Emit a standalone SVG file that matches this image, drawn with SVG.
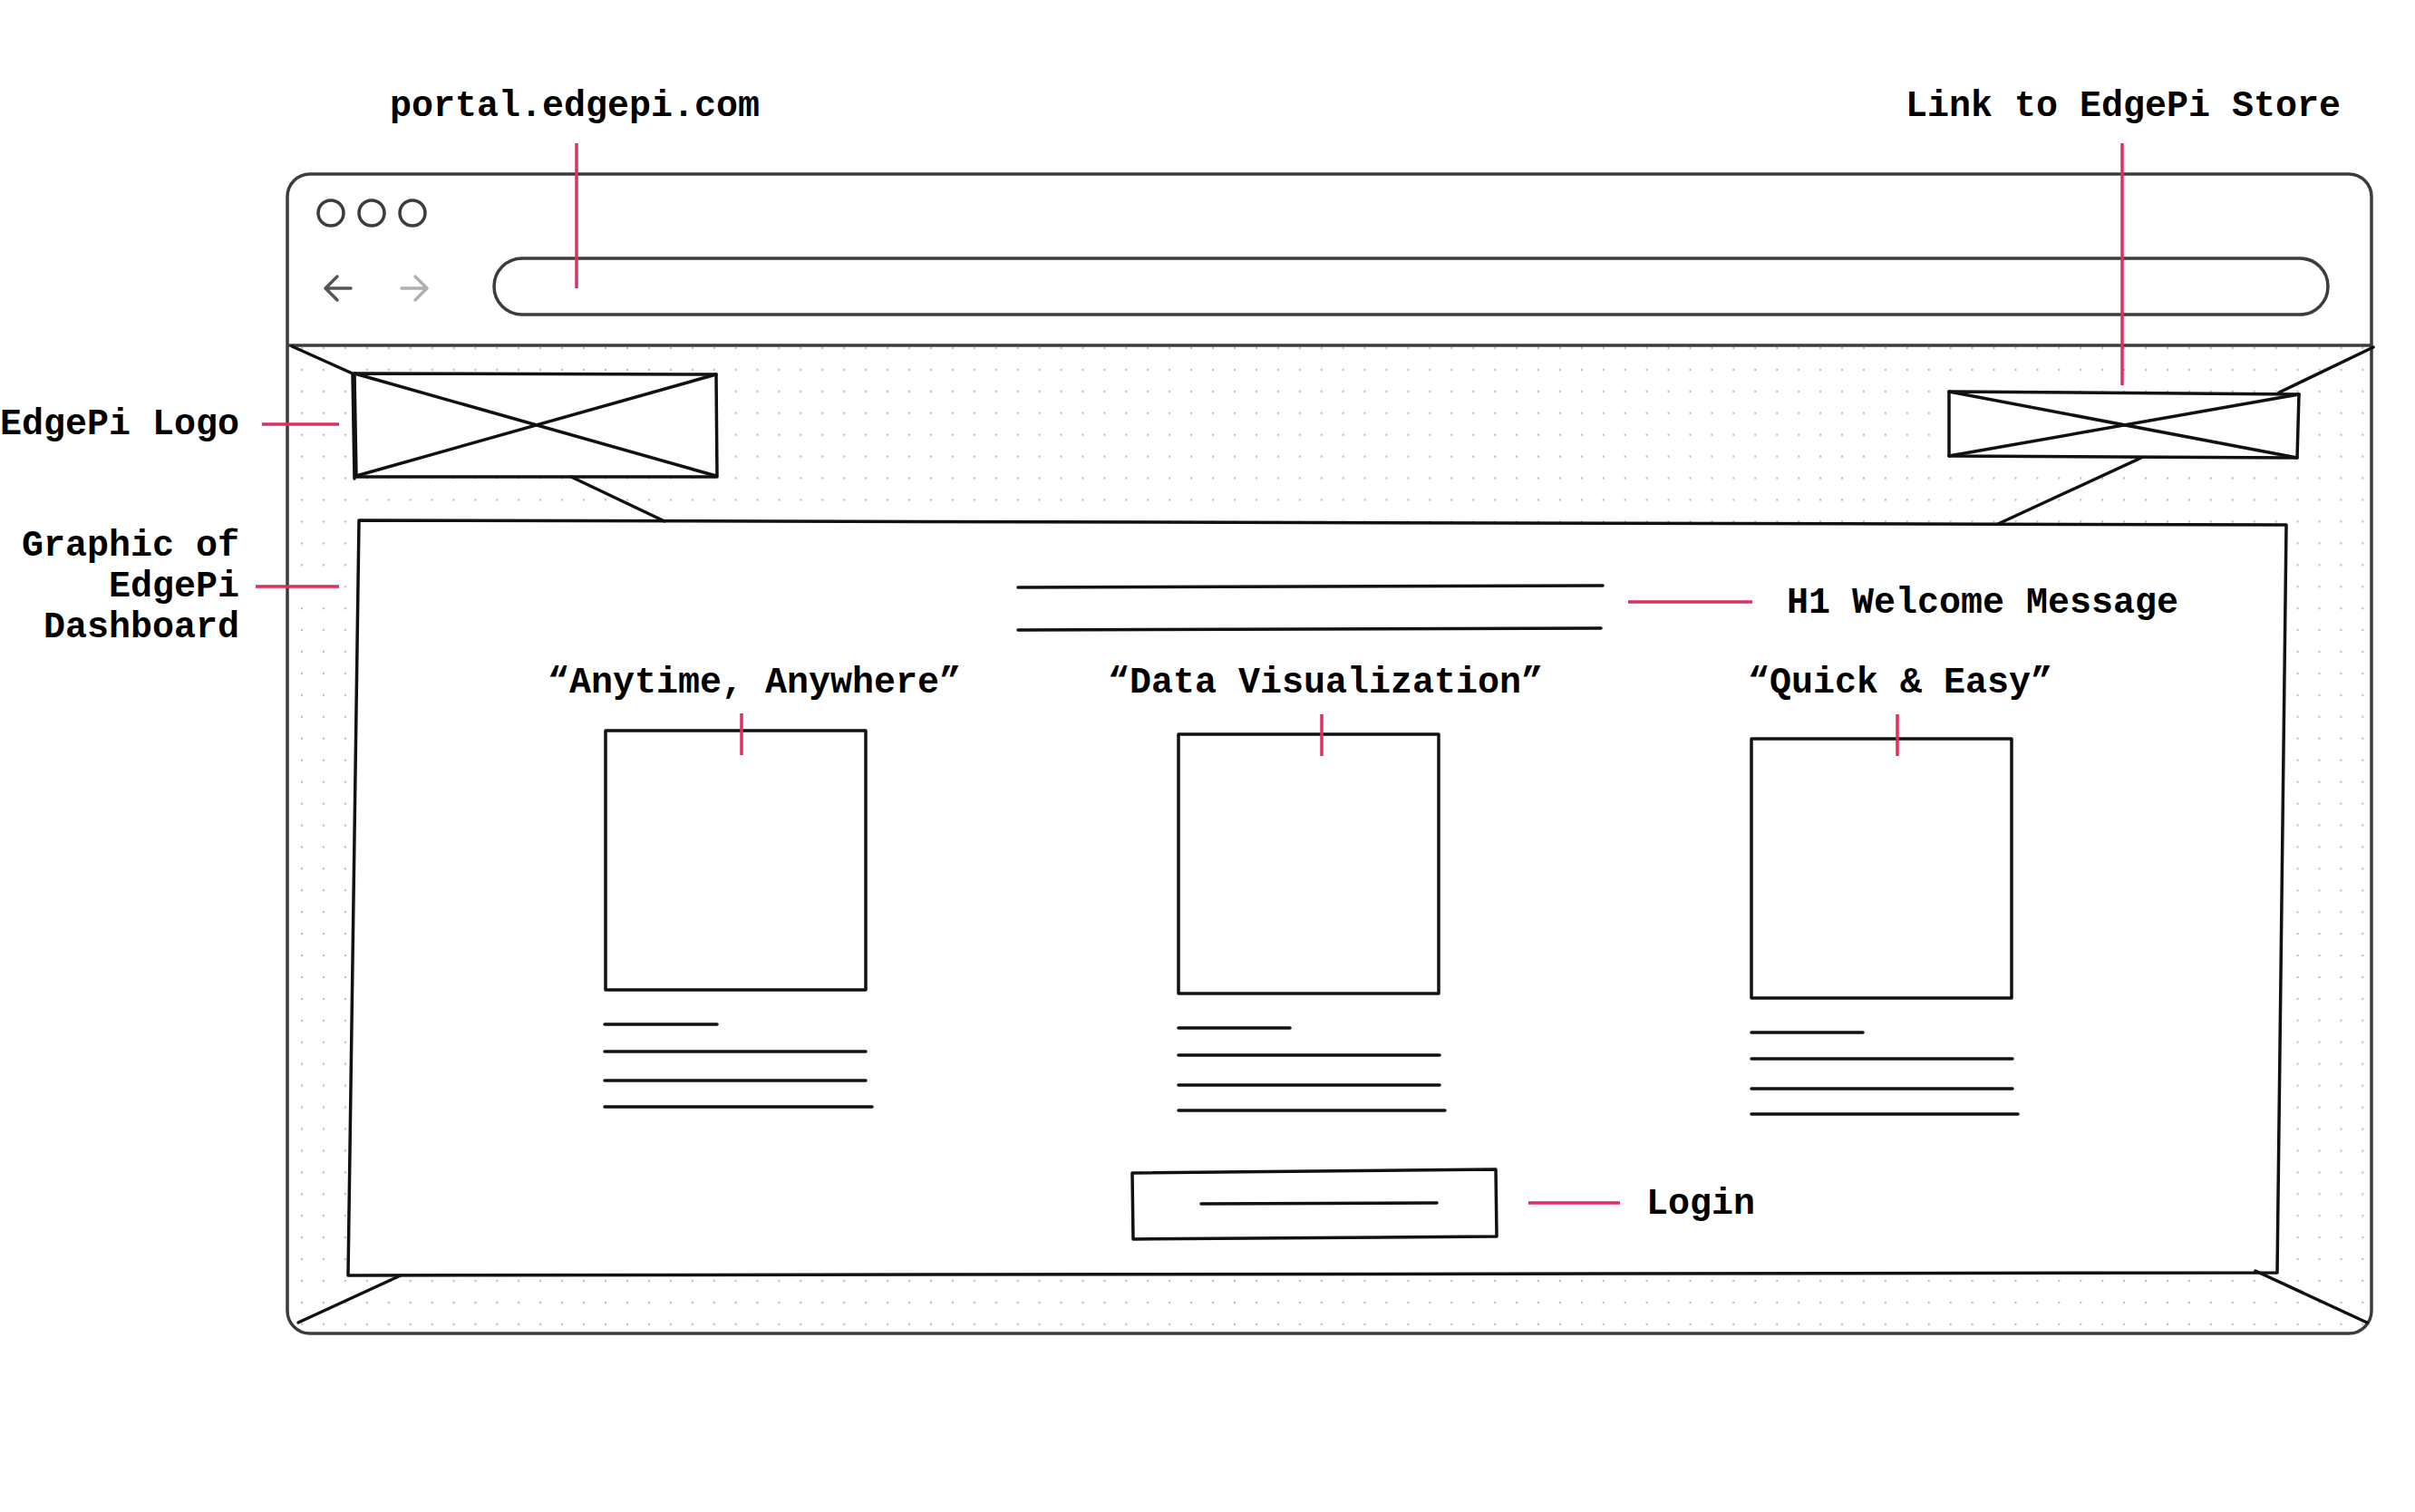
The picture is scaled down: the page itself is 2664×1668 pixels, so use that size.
<svg xmlns="http://www.w3.org/2000/svg" width="2664" height="1668" viewBox="0 0 2664 1668">
<style>
.lbl{font-family:"Liberation Mono","Courier New",monospace;font-weight:bold;font-size:40px;fill:#000}
.sk{fill:none;stroke:#111;stroke-width:3.5;stroke-linecap:round;stroke-linejoin:round}
.skf{fill:#fff;stroke:#111;stroke-width:3.5;stroke-linecap:round;stroke-linejoin:round}
.red{fill:none;stroke:#d9305f;stroke-width:3.5}
.frame{fill:none;stroke:#3c3c3c;stroke-width:3.5}
</style>
<defs>
<pattern id="dots" patternUnits="userSpaceOnUse" x="321.035" y="372.035" width="23.93" height="23.93">
<circle cx="11.965" cy="11.965" r="1.2" fill="#bdbdbd"/>
</pattern>
<clipPath id="content">
<path d="M317,381 H2616 V1446 A25,25 0 0 1 2591,1471 H342 A25,25 0 0 1 317,1446 Z"/>
</clipPath>
</defs>
<rect width="2664" height="1668" fill="#fff"/>

<g id="browser">
<rect x="317" y="381" width="2299" height="1090" fill="url(#dots)" clip-path="url(#content)"/>
<rect class="frame" x="317" y="192" width="2299" height="1279" rx="25"/>
<line class="frame" x1="317" y1="381" x2="2616" y2="381"/>
<circle class="frame" cx="365" cy="235" r="14" stroke-width="3"/>
<circle class="frame" cx="410" cy="235" r="14" stroke-width="3"/>
<circle class="frame" cx="455" cy="235" r="14" stroke-width="3"/>
<path d="M387,318 H359 M372,305 L359,318 L372,331" fill="none" stroke="#555" stroke-width="3.5" stroke-linecap="round" stroke-linejoin="round"/>
<path d="M443,318 H471 M458,305 L471,318 L458,331" fill="none" stroke="#b0b0b0" stroke-width="3.5" stroke-linecap="round" stroke-linejoin="round"/>
<rect class="frame" x="545" y="285" width="2023" height="62" rx="31" stroke-width="3"/>
</g>

<g id="logo-box">
<path class="skf" d="M391,412 L790,413 L791,526 L393,526 Z"/>
<line class="sk" x1="389" y1="413" x2="391" y2="528"/>
<line class="sk" x1="391" y1="412" x2="790" y2="525"/>
<line class="sk" x1="393" y1="525" x2="790" y2="413"/>
</g>

<g id="store-box">
<path class="skf" d="M2150,432 L2536,435 L2534,505 L2150,503 Z"/>
<line class="sk" x1="2150" y1="432" x2="2534" y2="505"/>
<line class="sk" x1="2150" y1="503" x2="2536" y2="435"/>
</g>

<g id="dashboard">
<path class="skf" d="M396,574 L2522,579 L2512,1404 L384,1407 Z"/>
</g>

<g id="h1-message">
<line class="sk" x1="1123" y1="648" x2="1768" y2="646"/>
<line class="sk" x1="1123" y1="695" x2="1766" y2="693"/>
</g>

<g id="card-1">
<rect class="sk" x="668" y="806" width="287" height="286"/>
<line class="sk" x1="667" y1="1130" x2="791" y2="1130"/>
<line class="sk" x1="667" y1="1160" x2="955" y2="1160"/>
<line class="sk" x1="667" y1="1192" x2="955" y2="1192"/>
<line class="sk" x1="667" y1="1221" x2="962" y2="1221"/>
</g>

<g id="card-2">
<rect class="sk" x="1300" y="810" width="287" height="286"/>
<line class="sk" x1="1300" y1="1134" x2="1423" y2="1134"/>
<line class="sk" x1="1300" y1="1164" x2="1588" y2="1164"/>
<line class="sk" x1="1300" y1="1197" x2="1588" y2="1197"/>
<line class="sk" x1="1300" y1="1225" x2="1594" y2="1225"/>
</g>

<g id="card-3">
<rect class="sk" x="1932" y="815" width="287" height="286"/>
<line class="sk" x1="1932" y1="1139" x2="2055" y2="1139"/>
<line class="sk" x1="1932" y1="1168" x2="2220" y2="1168"/>
<line class="sk" x1="1932" y1="1201" x2="2220" y2="1201"/>
<line class="sk" x1="1932" y1="1229" x2="2226" y2="1229"/>
</g>

<g id="login-button">
<path class="skf" d="M1249,1294 L1650,1290 L1651,1364 L1250,1367 Z"/>
<line class="sk" x1="1325" y1="1328" x2="1585" y2="1327" stroke-width="3"/>
</g>

<g id="connectors">
<line class="sk" x1="322" y1="382" x2="391" y2="413"/>
<line class="sk" x1="630" y1="526" x2="733" y2="575"/>
<line class="sk" x1="2514" y1="433" x2="2618" y2="383"/>
<line class="sk" x1="2362" y1="505" x2="2204" y2="578"/>
<line class="sk" x1="442" y1="1407" x2="329" y2="1459"/>
<line class="sk" x1="2488" y1="1402" x2="2611" y2="1459"/>
<line class="red" x1="636" y1="158" x2="636" y2="318"/>
<line class="red" x1="2341" y1="158" x2="2341" y2="425"/>
<line class="red" x1="289" y1="468" x2="374" y2="468"/>
<line class="red" x1="282" y1="647" x2="374" y2="647"/>
<line class="red" x1="1796" y1="664" x2="1933" y2="664"/>
<line class="red" x1="1686" y1="1327" x2="1787" y2="1327"/>
<line class="red" x1="818" y1="787" x2="818" y2="833"/>
<line class="red" x1="1458" y1="788" x2="1458" y2="834"/>
<line class="red" x1="2093" y1="788" x2="2093" y2="834"/>
</g>

<g id="labels">
<text class="lbl" x="430" y="128">portal.edgepi.com</text>
<text class="lbl" x="2102" y="128">Link to EdgePi Store</text>
<text class="lbl" x="264" y="479" text-anchor="end">EdgePi Logo</text>
<text class="lbl" x="264" y="613" text-anchor="end">Graphic of</text>
<text class="lbl" x="264" y="658" text-anchor="end">EdgePi</text>
<text class="lbl" x="264" y="703" text-anchor="end">Dashboard</text>
<text class="lbl" x="1971" y="676">H1 Welcome Message</text>
<text class="lbl" x="604" y="764">“Anytime, Anywhere”</text>
<text class="lbl" x="1222" y="764">“Data Visualization”</text>
<text class="lbl" x="1928" y="764">“Quick &amp; Easy”</text>
<text class="lbl" x="1816" y="1339">Login</text>
</g>
</svg>
